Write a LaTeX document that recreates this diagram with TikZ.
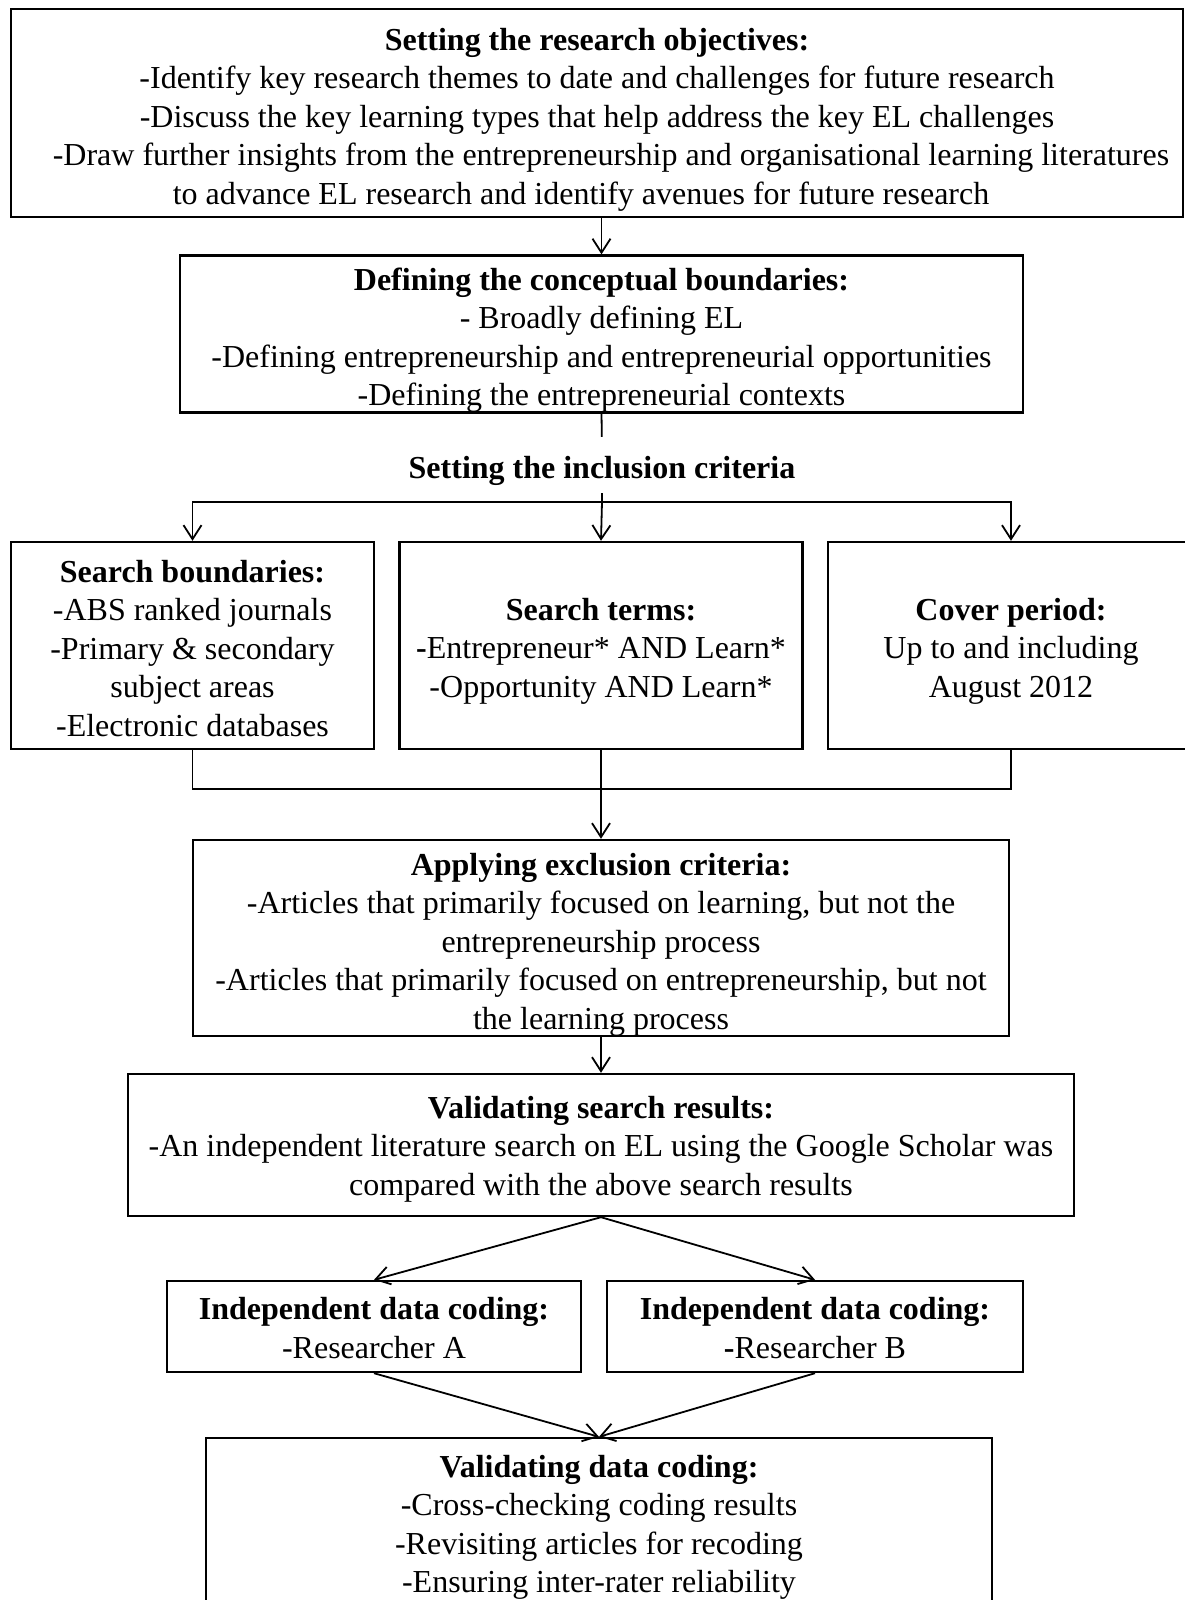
\documentclass[tikz,border=0pt]{standalone}
\usepackage{fontspec}
\setmainfont{Liberation Serif}
\usetikzlibrary{arrows.meta}
\newcommand{\fst}[1]{\rule{0pt}{#1pt}}
\begin{document}
\begin{tikzpicture}[x=1pt,y=-1pt,
  box/.style={draw, line width=2.4pt, align=center, inner sep=0pt,
    font=\fontsize{32}{38.5}\selectfont},
  plain/.style={align=center, font=\fontsize{32}{38.5}\selectfont},
  conn/.style={line width=1.8pt},
  arr/.style={line width=1.8pt, -{Straight Barb[length=14pt,width=18pt]}}]
\useasboundingbox (0,0) rectangle (1184,1600);

\node[box, minimum width=1172pt, minimum height=208pt] (obj) at (597,113)
 {\fst{35}\textbf{Setting the research objectives:}\\
  -Identify key research themes to date and challenges for future research\\
  -Discuss the key learning types that help address the key EL challenges\\
  \hspace*{28pt}-Draw further insights from the entrepreneurship and organisational learning literatures\\
  to advance EL research and identify avenues for future research\hspace*{32pt}};

\node[box, minimum width=843pt, minimum height=156pt] (def) at (601.5,334)
 {\fst{34.5}\textbf{Defining the conceptual boundaries:}\\
  - Broadly defining EL\\
  -Defining entrepreneurship and entrepreneurial opportunities\\
  -Defining the entrepreneurial contexts};

\node[plain, anchor=base, text height=22pt, text depth=7pt, inner xsep=0pt, inner ysep=8pt] (inc) at (602,478)
 {\textbf{Setting the inclusion criteria}};

\coordinate (j1) at (602,502);

\node[box, minimum width=363pt, minimum height=207pt] (sb) at (192.5,645.5)
 {\fst{27.5}\textbf{Search boundaries:}\\
  -ABS ranked journals\\
  -Primary \& secondary\\
  subject areas\\
  -Electronic databases};

\node[box, minimum width=403pt, minimum height=207pt] (st) at (601,645.5)
 {\fst{33}\textbf{Search terms:}\\
  \textbf{-}Entrepreneur* AND Learn*\\
  -Opportunity AND Learn*};

\node[box, minimum width=366pt, minimum height=207pt] (cp) at (1011,645.5)
 {\fst{33}\textbf{Cover period:}\\
  Up to and including\\
  August 2012};

\coordinate (j2) at (601,789);

\node[box, minimum width=816pt, minimum height=196pt] (ex) at (601,938)
 {\fst{35}\textbf{Applying exclusion criteria:}\\
  -Articles that primarily focused on learning, but not the\\
  entrepreneurship process\\
  -Articles that primarily focused on entrepreneurship, but not\\
  the learning process};

\node[box, minimum width=946pt, minimum height=142pt] (vs) at (601,1145)
 {\fst{30}\textbf{Validating search results:}\\
  -An independent literature search on EL using the Google Scholar was\\
  compared with the above search results};

\node[box, minimum width=414pt, minimum height=91pt] (ia) at (374,1326.5)
 {\fst{25.5}\textbf{Independent data coding:}\\
  -Researcher A};

\node[box, minimum width=416pt, minimum height=91pt] (ib) at (815,1326.5)
 {\fst{25.5}\textbf{Independent data coding:}\\
  \textbf{-}Researcher B};

\node[box, minimum width=786pt, minimum height=174pt] (vd) at (599,1525)
 {\fst{26.5}\textbf{Validating data coding:}\\
  -Cross-checking coding results\\
  -Revisiting articles for recoding\\
  -Ensuring inter-rater reliability};

% connectors
\draw[arr] (obj.south -| def.north) -- (def.north);
\draw[conn, shorten >=11pt] (def.south) -- (inc.north);
\draw[conn] (inc.south) -- (j1);
\draw[arr] (j1) -| (sb.north);
\draw[arr] (j1) -- (st.north);
\draw[arr] (j1) -| (cp.north);
\draw[conn] (sb.south) |- (j2);
\draw[conn] (cp.south) |- (j2);
\draw[arr] (st.south) -- (ex.north);
\draw[arr] (ex.south) -- (vs.north);
\draw[arr] (vs.south) -- (ia.north);
\draw[arr] (vs.south) -- (ib.north);
\draw[arr] (ia.south) -- (vd.north);
\draw[arr] (ib.south) -- (vd.north);
\end{tikzpicture}
\end{document}
